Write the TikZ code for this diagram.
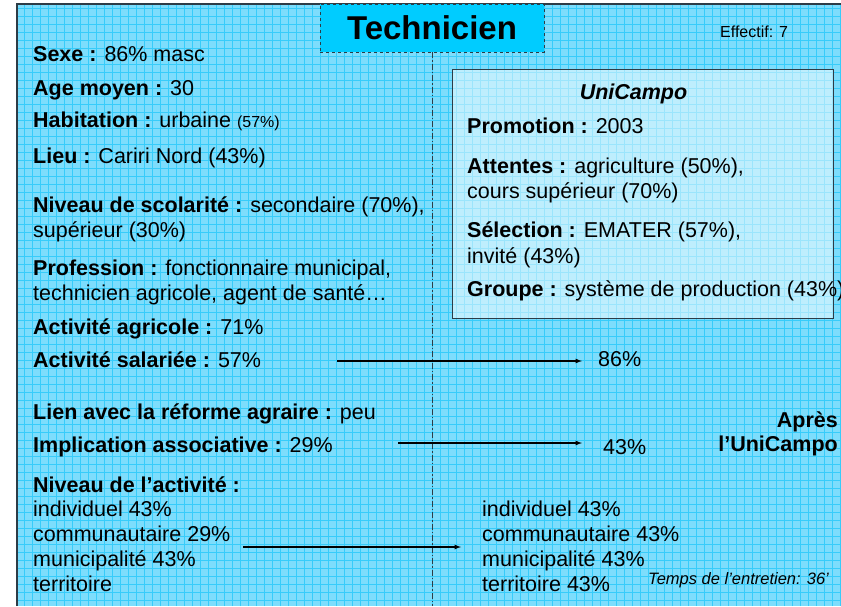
\documentclass[tikz,border=0pt]{standalone}
\usepackage{fontspec}
\setmainfont{Liberation Sans}
\tikzset{>=latex}

\definecolor{fond}{RGB}{125,221,252}
\definecolor{grille}{RGB}{55,204,250}
\definecolor{bandeau}{RGB}{0,204,255}
\definecolor{cadre}{RGB}{45,60,70}

\tikzset{
  txt/.style={anchor=base west, inner sep=0pt, font=\fontsize{21.5}{25}\selectfont},
  txtd/.style={anchor=base east, inner sep=0pt, font=\fontsize{21.5}{25}\selectfont\bfseries},
  petit/.style={anchor=base west, inner sep=0pt, font=\fontsize{16}{19}\selectfont},
  fleche/.style={->, line width=1.2, black},
}

\begin{document}
\begin{tikzpicture}[x=1pt,y=-1pt]
\useasboundingbox (0,0) rectangle (841,606);

% fond quadrille
\fill[fond] (17,4) rectangle (841,606);
\draw[grille, line width=0.8] (17,4) grid[step=8pt] (841,606);
\draw[cadre, line width=1.5] (17,606) -- (17,4) -- (841,4);

% titre et separation
\node[draw=cadre, dashed, line width=0.9, fill=bandeau, minimum width=224pt, minimum height=48pt,
      inner sep=0pt, font=\fontsize{33}{36}\selectfont\bfseries] (titre) at (432,28) {Technicien};
\coordinate (bas) at (432,606);
\draw[cadre, line width=0.9, dash pattern=on 6pt off 2pt on 1.5pt off 2pt] (titre.south) -- (bas);

\node[petit] (effectif) at (720,37) {Effectif: 7};

% boite UniCampo
\node[draw=cadre, line width=0.9, fill=white, fill opacity=0.5, minimum width=381pt,
      minimum height=249pt, inner sep=0pt] (boite) at (642.5,193.5) {};
\node[txt, anchor=base, font=\fontsize{21.5}{25}\selectfont\bfseries\itshape] (uc) at (633.5,99) {UniCampo};
\node[txt] (promo) at (467,133) {\textbf{Promotion :} 2003};
\node[txt] (att1) at (467,173) {\textbf{Attentes :} agriculture (50\%),};
\node[txt] (att2) at (467,198) {cours supérieur (70\%)};
\node[txt] (sel1) at (467,237) {\textbf{Sélection :} EMATER (57\%),};
\node[txt] (sel2) at (467,263) {invité (43\%)};
\node[txt] (grp) at (467,296) {\textbf{Groupe :} système de production (43\%)};

% colonne gauche
\node[txt] (sexe) at (33,61) {\textbf{Sexe :} 86\% masc};
\node[txt] (age) at (33,95) {\textbf{Age moyen :} 30};
\node[txt] (habit) at (33,127) {\textbf{Habitation :} urbaine {\fontsize{16}{19}\selectfont(57\%)}};
\node[txt] (lieu) at (33,163) {\textbf{Lieu :} Cariri Nord (43\%)};
\node[txt] (scol1) at (33,212) {\textbf{Niveau de scolarité :} secondaire (70\%),};
\node[txt] (scol2) at (33,237) {supérieur (30\%)};
\node[txt] (prof1) at (33,275) {\textbf{Profession :} fonctionnaire municipal,};
\node[txt] (prof2) at (33,300) {technicien agricole, agent de santé…};
\node[txt] (agri) at (33,334) {\textbf{Activité agricole :} 71\%};
\node[txt] (sal) at (33,367) {\textbf{Activité salariée :} 57\%};
\node[txt] (lien) at (33,419) {\textbf{Lien avec la réforme agraire :} peu};
\node[txt] (impl) at (33,452) {\textbf{Implication associative :} 29\%};
\node[txt] (niv) at (33,492) {\textbf{Niveau de l’activité :}};
\node[txt] (niv1) at (33,516) {individuel 43\%};
\node[txt] (niv2) at (33,541) {communautaire 29\%};
\node[txt] (niv3) at (33,566) {municipalité 43\%};
\node[txt] (niv4) at (33,591) {territoire};

% apres UniCampo
\node[txt] (p86) at (598,366) {86\%};
\node[txtd] (apres1) at (838,427) {Après};
\node[txtd] (apres2) at (838,451) {l’UniCampo};
\node[txt] (p43) at (603,454) {43\%};
\node[txt] (nv1) at (482,516) {individuel 43\%};
\node[txt] (nv2) at (482,541) {communautaire 43\%};
\node[txt] (nv3) at (482,566) {municipalité 43\%};
\node[txt] (nv4) at (482,591) {territoire 43\%};
\node[petit, font=\fontsize{16.5}{19}\selectfont\itshape] (temps) at (648,584) {Temps de l’entretien: 36’};

% fleches
\coordinate (d1) at (337,361);
\coordinate (d2) at (398,443);
\coordinate (d3) at (243,547);
\draw[fleche, shorten >=16pt] (d1) -- (d1 -| p86.west);
\draw[fleche, shorten >=21pt] (d2) -- (d2 -| p43.west);
\draw[fleche, shorten >=21pt] (d3) -- (d3 -| nv1.west);

\end{tikzpicture}
\end{document}
